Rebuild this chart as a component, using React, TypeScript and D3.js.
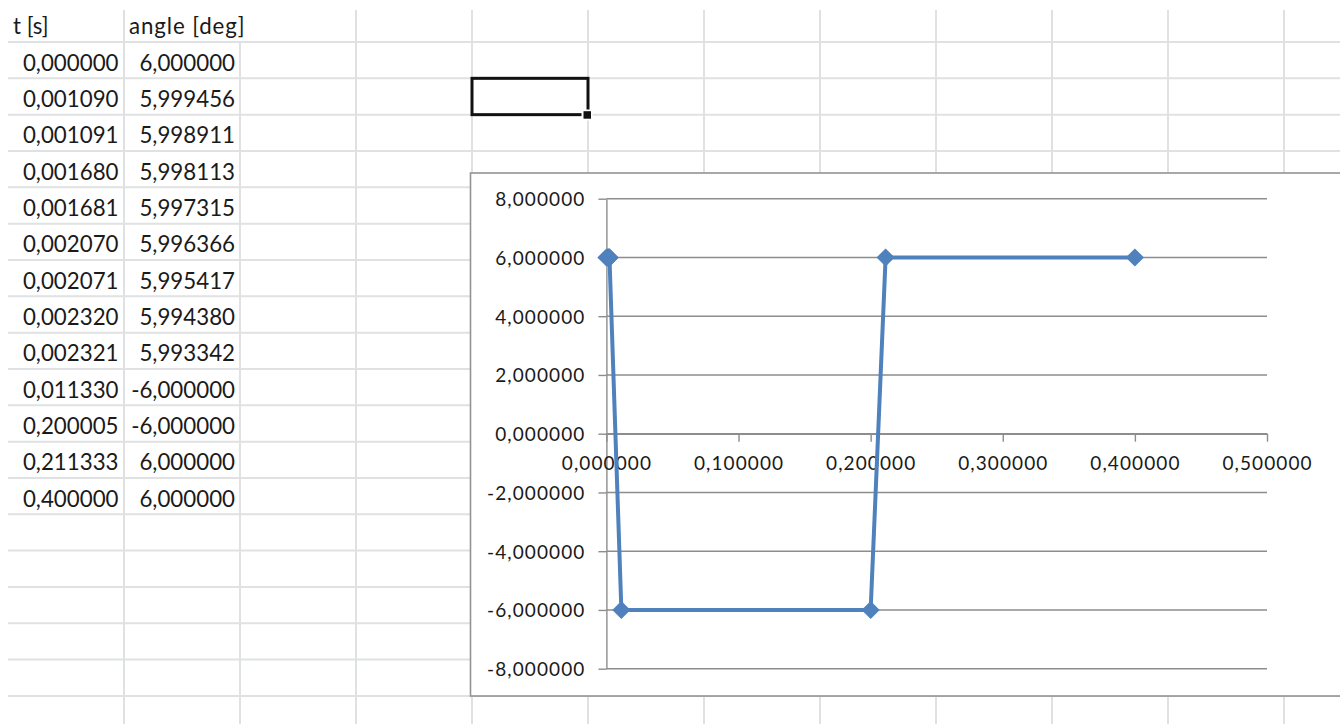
import React, { useEffect, useRef } from "react";
import * as d3 from "d3";

// Worksheet columns A/B: time and angle samples
const headers = ["t [s]", "angle [deg]"];
const tValues = [
  0.0, 0.00109, 0.001091, 0.00168, 0.001681, 0.00207, 0.002071, 0.00232,
  0.002321, 0.01133, 0.200005, 0.211333, 0.4,
];
const angleValues = [
  6.0, 5.999456, 5.998911, 5.998113, 5.997315, 5.996366, 5.995417, 5.99438,
  5.993342, -6.0, -6.0, 6.0, 6.0,
];
const xTicks = [0, 0.1, 0.2, 0.3, 0.4, 0.5];
const yTicks = [-8, -6, -4, -2, 0, 2, 4, 6, 8];

const W = 1340;
const H = 724;

// Sheet geometry
const sheetLeft = 8;
const sheetTop = 10;
const colW = 116;
const headerBottom = 42;
const rowH = 36.33;
const nCols = 12;
const nRowLines = 19;

// Chart object geometry
const chartBox = { x: 470.5, y: 173, w: 900, h: 523 };
const plot = { left: 606.4, right: 1267, top: 198.7, bottom: 668.7 };

const commaLocale = d3.formatLocale({
  decimal: ",",
  thousands: ".",
  grouping: [3],
  currency: ["", ""],
  minus: "-",
});
const fmt6 = commaLocale.format(".6f");

const CELL_FONT = "Lato, 'Open Sans', sans-serif";
const CHART_FONT = "Lato, 'Open Sans', sans-serif";
const LINE_BLUE = "#4f81bd";
const GRID_GREY = "#8d8d8d";
const SHEET_LINE = "#e0e1e2";

export default function App() {
  const axesRef = useRef<SVGGElement>(null);

  const x = d3.scaleLinear().domain([0, 0.5]).range([plot.left, plot.right]);
  const y = d3.scaleLinear().domain([-8, 8]).range([plot.bottom, plot.top]);

  const points = tValues.map((t, i) => [t, angleValues[i]] as [number, number]);
  const linePath = d3
    .line<[number, number]>()
    .x((d) => x(d[0]))
    .y((d) => y(d[1]))(points);
  const diamond = d3.symbol().type(d3.symbolDiamond2).size(210)();

  useEffect(() => {
    const g = d3.select(axesRef.current);
    g.selectAll("*").remove();

    // Horizontal value gridlines
    g.append("g")
      .selectAll("line")
      .data(yTicks)
      .join("line")
      .attr("x1", plot.left)
      .attr("x2", plot.right)
      .attr("y1", (d) => y(d))
      .attr("y2", (d) => y(d))
      .attr("stroke", GRID_GREY)
      .attr("stroke-width", 1.4);

    // Value axis on the left
    const yAxis = d3
      .axisLeft(y)
      .tickValues(yTicks)
      .tickSize(8)
      .tickSizeOuter(0)
      .tickPadding(13)
      .tickFormat((d) => fmt6(d as number));
    const ya = g
      .append("g")
      .attr("transform", `translate(${plot.left},0)`)
      .call(yAxis);

    // Time axis crossing at zero
    const xAxis = d3
      .axisBottom(x)
      .tickValues(xTicks)
      .tickSize(8)
      .tickSizeOuter(0)
      .tickPadding(15)
      .tickFormat((d) => fmt6(d as number));
    const xa = g
      .append("g")
      .attr("transform", `translate(0,${y(0)})`)
      .call(xAxis);

    [ya, xa].forEach((a) => {
      a.select(".domain").attr("stroke", GRID_GREY).attr("stroke-width", 1.4);
      a.selectAll(".tick line")
        .attr("stroke", GRID_GREY)
        .attr("stroke-width", 1.4);
      a.selectAll(".tick text")
        .attr("fill", "#1a1a1a")
        .style("font-family", CHART_FONT)
        .style("font-size", "19px")
        .style("letter-spacing", "1.1px");
    });
    ya.selectAll(".tick text").attr("dy", "0.36em");
  }, []);

  const colLines = d3.range(1, nCols).map((i) => sheetLeft + colW * i);
  const rowLines = d3.range(nRowLines).map((i) => headerBottom + rowH * i);

  return (
    <svg
      width={W}
      height={H}
      style={{ position: "absolute", left: 0, top: 0, background: "#fff" }}
    >
      <rect x={0} y={0} width={W} height={H} fill="#fff" />

      {/* sheet gridlines */}
      <g stroke={SHEET_LINE} strokeWidth={2}>
        {rowLines.map((ry, i) => (
          <line key={`r${i}`} x1={sheetLeft} x2={W} y1={ry} y2={ry} />
        ))}
        {colLines.map((cx, i) => (
          <line
            key={`c${i}`}
            x1={cx}
            x2={cx}
            y1={i === 1 ? headerBottom : sheetTop}
            y2={H}
          />
        ))}
      </g>

      {/* sheet cells */}
      <g
        style={{ fontFamily: CELL_FONT, fontSize: "22.3px" }}
        fill="#1a1a1a"
      >
        <text x={sheetLeft + 5} y={headerBottom - 8}>
          {headers[0]}
        </text>
        <text x={sheetLeft + colW + 5} y={headerBottom - 8} letterSpacing="0.9">
          {headers[1]}
        </text>
        {tValues.map((t, i) => (
          <text
            key={`t${i}`}
            x={sheetLeft + colW - 5.5}
            y={headerBottom + rowH * (i + 1) - 7.6}
            textAnchor="end"
          >
            {fmt6(t)}
          </text>
        ))}
        {angleValues.map((a, i) => (
          <text
            key={`a${i}`}
            x={sheetLeft + 2 * colW - 5}
            y={headerBottom + rowH * (i + 1) - 7.6}
            textAnchor="end"
          >
            {fmt6(a)}
          </text>
        ))}
      </g>

      {/* active cell */}
      <rect
        x={sheetLeft + colW * 4}
        y={headerBottom + rowH}
        width={colW}
        height={rowH}
        fill="none"
        stroke="#111"
        strokeWidth={3}
      />
      <rect x={581.5} y={109.5} width={11} height={11} fill="#fff" />
      <rect x={583.5} y={111.2} width={7.5} height={7.5} fill="#111" />

      {/* chart object */}
      <rect
        x={chartBox.x}
        y={chartBox.y}
        width={chartBox.w}
        height={chartBox.h}
        fill="#fff"
        stroke="#939393"
        strokeWidth={1.6}
      />
      <g ref={axesRef} />
      <path
        d={linePath ?? ""}
        fill="none"
        stroke={LINE_BLUE}
        strokeWidth={4}
        strokeLinejoin="round"
      />
      <g fill={LINE_BLUE}>
        {points.map((p, i) => (
          <path
            key={`m${i}`}
            d={diamond ?? ""}
            transform={`translate(${x(p[0])},${y(p[1])})`}
          />
        ))}
      </g>
    </svg>
  );
}
